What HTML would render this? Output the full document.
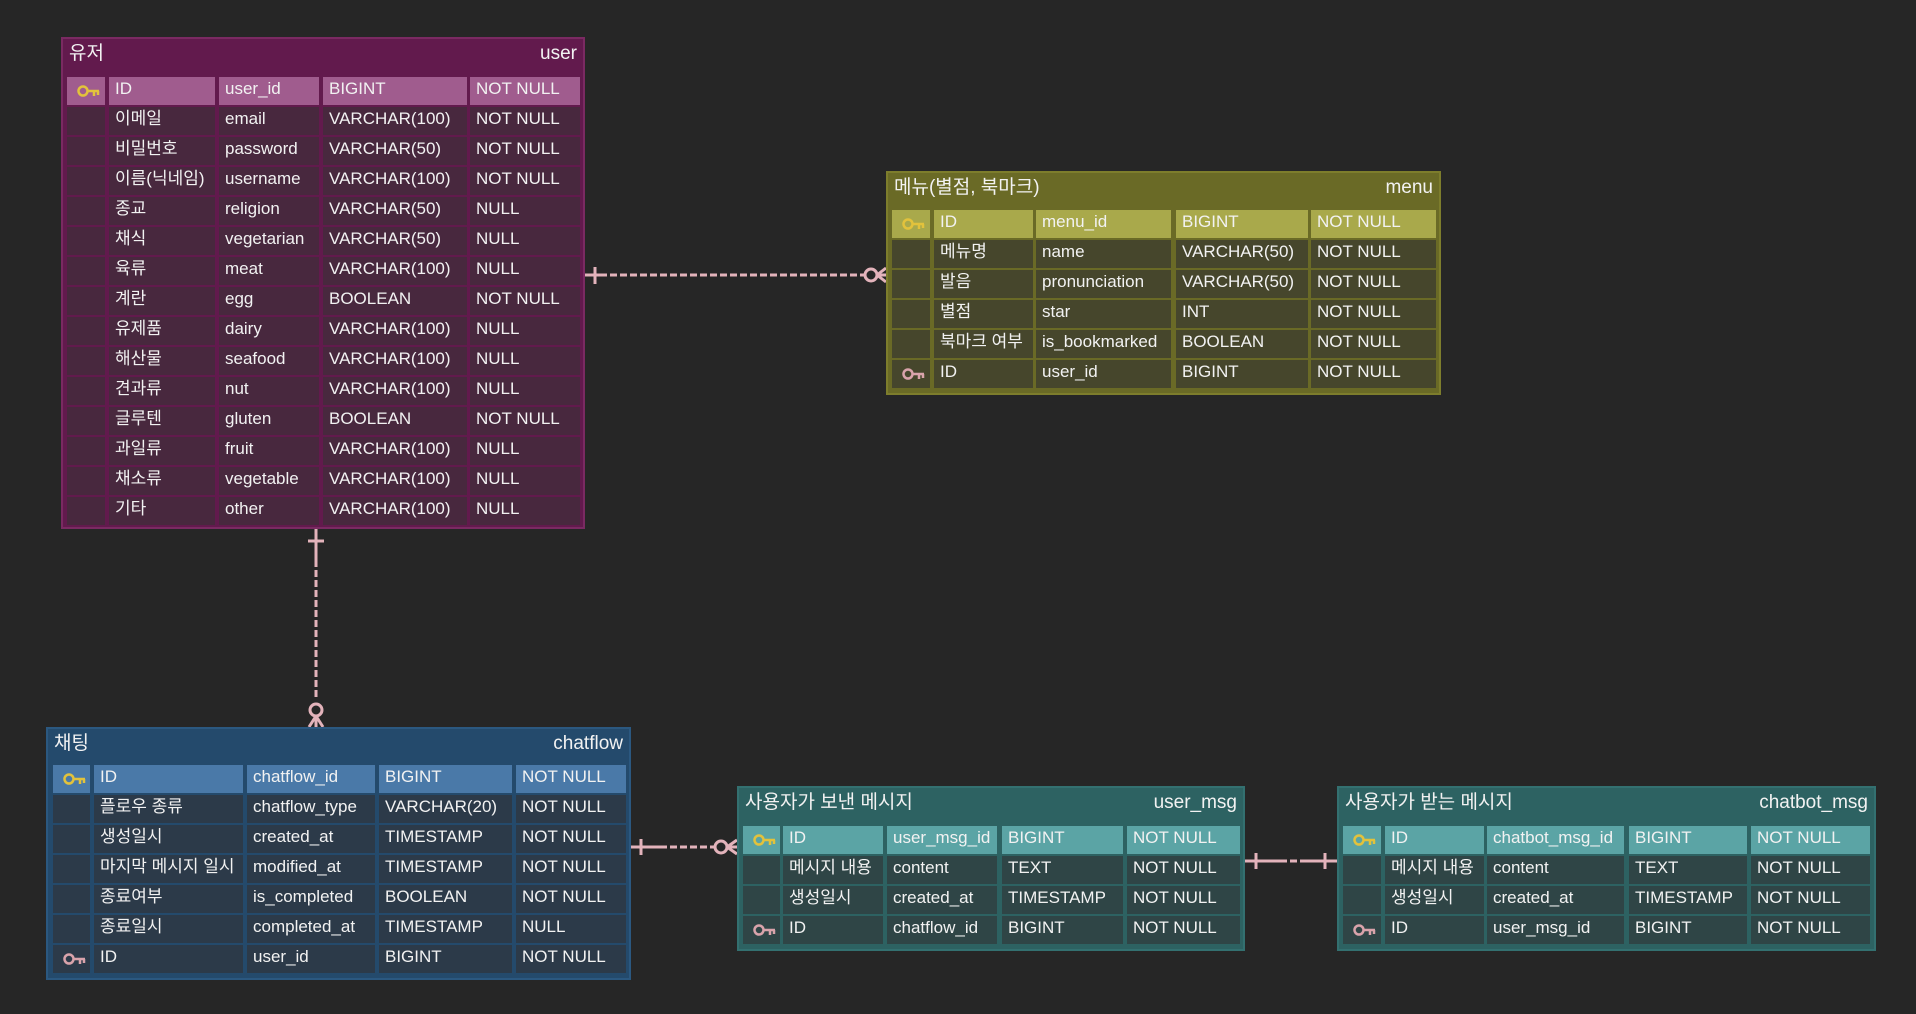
<!DOCTYPE html>
<html><head><meta charset="utf-8"><style>
*{box-sizing:border-box;margin:0;padding:0}
body{width:1916px;height:1014px;background:#262626;position:relative;overflow:hidden;font-family:"Liberation Sans","Noto Sans CJK KR",sans-serif;color:#f2f2f2}
.t{position:absolute;border:2px solid}
.hd{position:absolute;left:6px;right:6px;top:3px;font-size:19px;line-height:24px;display:flex;justify-content:space-between;align-items:baseline}
.r{position:absolute;height:28px}
.c{position:absolute;top:0;height:28px;font-size:17px;line-height:24px;padding-left:6px;white-space:nowrap;overflow:hidden}
.k{display:flex;align-items:center;justify-content:center}
svg.ln{position:absolute;left:0;top:0}
</style></head><body>

<svg class="ln" width="1916" height="1014">
<g stroke="#e3b3bb" stroke-width="3" fill="none">
<line x1="585" y1="275" x2="600" y2="275"/><line x1="600" y1="275" x2="860" y2="275" stroke-dasharray="7,3"/><line x1="860" y1="275" x2="865" y2="275"/>
<line x1="595" y1="267" x2="595" y2="284"/>
<circle cx="871" cy="275" r="6"/>
<line x1="877" y1="275" x2="886" y2="275"/><line x1="877" y1="275" x2="886" y2="268"/><line x1="877" y1="275" x2="886" y2="282"/>
<line x1="316" y1="529" x2="316" y2="560"/><line x1="316" y1="560" x2="316" y2="700" stroke-dasharray="7,3"/>
<line x1="308" y1="541" x2="324" y2="541"/>
<circle cx="316" cy="710" r="6"/>
<line x1="316" y1="716" x2="316" y2="727"/><line x1="316" y1="716" x2="309" y2="727"/><line x1="316" y1="716" x2="323" y2="727"/>
<line x1="631" y1="847" x2="660" y2="847"/><line x1="660" y1="847" x2="715" y2="847" stroke-dasharray="7,3"/>
<line x1="641" y1="839" x2="641" y2="855"/>
<circle cx="721" cy="847" r="6"/>
<line x1="727" y1="847" x2="737" y2="847"/><line x1="727" y1="847" x2="737" y2="840"/><line x1="727" y1="847" x2="737" y2="854"/>
<line x1="1245" y1="861" x2="1280" y2="861"/><line x1="1280" y1="861" x2="1302" y2="861" stroke-dasharray="7,3"/><line x1="1302" y1="861" x2="1337" y2="861"/>
<line x1="1256" y1="853" x2="1256" y2="869"/><line x1="1325" y1="853" x2="1325" y2="869"/>
</g>
</svg>

<div class="t" style="left:61px;top:37px;width:524px;height:492px;background:#621a4d;border-color:#7a2a62">
<div class="hd"><span>유저</span><span>user</span></div>
</div>

<div class="r" style="top:77px;left:0">
<div class="c k" style="left:67px;width:38px;background:#a05c8e"><svg width="24" height="14"><circle cx="6" cy="7" r="4.5" stroke="#e2c23c" stroke-width="2.5" fill="none"/><path d="M10 7H22M17 7V12M21 7V11" stroke="#e2c23c" stroke-width="2.5" fill="none"/></svg></div>
<div class="c" style="left:109px;width:106px;background:#a05c8e">ID</div><div class="c" style="left:219px;width:100px;background:#a05c8e">user_id</div><div class="c" style="left:323px;width:144px;background:#a05c8e">BIGINT</div><div class="c" style="left:470px;width:110px;background:#a05c8e">NOT NULL</div></div>

<div class="r" style="top:107px"><div class="c" style="left:67px;width:38px;background:#48283e"></div><div class="c" style="left:109px;width:106px;background:#48283e">이메일</div><div class="c" style="left:219px;width:100px;background:#48283e">email</div><div class="c" style="left:323px;width:144px;background:#48283e">VARCHAR(100)</div><div class="c" style="left:470px;width:110px;background:#48283e">NOT NULL</div></div>
<div class="r" style="top:137px"><div class="c" style="left:67px;width:38px;background:#48283e"></div><div class="c" style="left:109px;width:106px;background:#48283e">비밀번호</div><div class="c" style="left:219px;width:100px;background:#48283e">password</div><div class="c" style="left:323px;width:144px;background:#48283e">VARCHAR(50)</div><div class="c" style="left:470px;width:110px;background:#48283e">NOT NULL</div></div>
<div class="r" style="top:167px"><div class="c" style="left:67px;width:38px;background:#48283e"></div><div class="c" style="left:109px;width:106px;background:#48283e">이름(닉네임)</div><div class="c" style="left:219px;width:100px;background:#48283e">username</div><div class="c" style="left:323px;width:144px;background:#48283e">VARCHAR(100)</div><div class="c" style="left:470px;width:110px;background:#48283e">NOT NULL</div></div>
<div class="r" style="top:197px"><div class="c" style="left:67px;width:38px;background:#48283e"></div><div class="c" style="left:109px;width:106px;background:#48283e">종교</div><div class="c" style="left:219px;width:100px;background:#48283e">religion</div><div class="c" style="left:323px;width:144px;background:#48283e">VARCHAR(50)</div><div class="c" style="left:470px;width:110px;background:#48283e">NULL</div></div>
<div class="r" style="top:227px"><div class="c" style="left:67px;width:38px;background:#48283e"></div><div class="c" style="left:109px;width:106px;background:#48283e">채식</div><div class="c" style="left:219px;width:100px;background:#48283e">vegetarian</div><div class="c" style="left:323px;width:144px;background:#48283e">VARCHAR(50)</div><div class="c" style="left:470px;width:110px;background:#48283e">NULL</div></div>
<div class="r" style="top:257px"><div class="c" style="left:67px;width:38px;background:#48283e"></div><div class="c" style="left:109px;width:106px;background:#48283e">육류</div><div class="c" style="left:219px;width:100px;background:#48283e">meat</div><div class="c" style="left:323px;width:144px;background:#48283e">VARCHAR(100)</div><div class="c" style="left:470px;width:110px;background:#48283e">NULL</div></div>
<div class="r" style="top:287px"><div class="c" style="left:67px;width:38px;background:#48283e"></div><div class="c" style="left:109px;width:106px;background:#48283e">계란</div><div class="c" style="left:219px;width:100px;background:#48283e">egg</div><div class="c" style="left:323px;width:144px;background:#48283e">BOOLEAN</div><div class="c" style="left:470px;width:110px;background:#48283e">NOT NULL</div></div>
<div class="r" style="top:317px"><div class="c" style="left:67px;width:38px;background:#48283e"></div><div class="c" style="left:109px;width:106px;background:#48283e">유제품</div><div class="c" style="left:219px;width:100px;background:#48283e">dairy</div><div class="c" style="left:323px;width:144px;background:#48283e">VARCHAR(100)</div><div class="c" style="left:470px;width:110px;background:#48283e">NULL</div></div>
<div class="r" style="top:347px"><div class="c" style="left:67px;width:38px;background:#48283e"></div><div class="c" style="left:109px;width:106px;background:#48283e">해산물</div><div class="c" style="left:219px;width:100px;background:#48283e">seafood</div><div class="c" style="left:323px;width:144px;background:#48283e">VARCHAR(100)</div><div class="c" style="left:470px;width:110px;background:#48283e">NULL</div></div>
<div class="r" style="top:377px"><div class="c" style="left:67px;width:38px;background:#48283e"></div><div class="c" style="left:109px;width:106px;background:#48283e">견과류</div><div class="c" style="left:219px;width:100px;background:#48283e">nut</div><div class="c" style="left:323px;width:144px;background:#48283e">VARCHAR(100)</div><div class="c" style="left:470px;width:110px;background:#48283e">NULL</div></div>
<div class="r" style="top:407px"><div class="c" style="left:67px;width:38px;background:#48283e"></div><div class="c" style="left:109px;width:106px;background:#48283e">글루텐</div><div class="c" style="left:219px;width:100px;background:#48283e">gluten</div><div class="c" style="left:323px;width:144px;background:#48283e">BOOLEAN</div><div class="c" style="left:470px;width:110px;background:#48283e">NOT NULL</div></div>
<div class="r" style="top:437px"><div class="c" style="left:67px;width:38px;background:#48283e"></div><div class="c" style="left:109px;width:106px;background:#48283e">과일류</div><div class="c" style="left:219px;width:100px;background:#48283e">fruit</div><div class="c" style="left:323px;width:144px;background:#48283e">VARCHAR(100)</div><div class="c" style="left:470px;width:110px;background:#48283e">NULL</div></div>
<div class="r" style="top:467px"><div class="c" style="left:67px;width:38px;background:#48283e"></div><div class="c" style="left:109px;width:106px;background:#48283e">채소류</div><div class="c" style="left:219px;width:100px;background:#48283e">vegetable</div><div class="c" style="left:323px;width:144px;background:#48283e">VARCHAR(100)</div><div class="c" style="left:470px;width:110px;background:#48283e">NULL</div></div>
<div class="r" style="top:497px"><div class="c" style="left:67px;width:38px;background:#48283e"></div><div class="c" style="left:109px;width:106px;background:#48283e">기타</div><div class="c" style="left:219px;width:100px;background:#48283e">other</div><div class="c" style="left:323px;width:144px;background:#48283e">VARCHAR(100)</div><div class="c" style="left:470px;width:110px;background:#48283e">NULL</div></div>

<div class="t" style="left:886px;top:171px;width:555px;height:224px;background:#6a6a26;border-color:#7d7d2c">
<div class="hd"><span>메뉴(별점, 북마크)</span><span>menu</span></div>
</div>
<div class="r" style="top:210px"><div class="c k" style="left:892px;width:38px;background:#a9a94b"><svg width="24" height="14"><circle cx="6" cy="7" r="4.5" stroke="#e2c23c" stroke-width="2.5" fill="none"/><path d="M10 7H22M17 7V12M21 7V11" stroke="#e2c23c" stroke-width="2.5" fill="none"/></svg></div><div class="c" style="left:934px;width:99px;background:#a9a94b">ID</div><div class="c" style="left:1036px;width:135px;background:#a9a94b">menu_id</div><div class="c" style="left:1176px;width:132px;background:#a9a94b">BIGINT</div><div class="c" style="left:1311px;width:125px;background:#a9a94b">NOT NULL</div></div>
<div class="r" style="top:240px"><div class="c" style="left:892px;width:38px;background:#46462c"></div><div class="c" style="left:934px;width:99px;background:#46462c">메뉴명</div><div class="c" style="left:1036px;width:135px;background:#46462c">name</div><div class="c" style="left:1176px;width:132px;background:#46462c">VARCHAR(50)</div><div class="c" style="left:1311px;width:125px;background:#46462c">NOT NULL</div></div>
<div class="r" style="top:270px"><div class="c" style="left:892px;width:38px;background:#46462c"></div><div class="c" style="left:934px;width:99px;background:#46462c">발음</div><div class="c" style="left:1036px;width:135px;background:#46462c">pronunciation</div><div class="c" style="left:1176px;width:132px;background:#46462c">VARCHAR(50)</div><div class="c" style="left:1311px;width:125px;background:#46462c">NOT NULL</div></div>
<div class="r" style="top:300px"><div class="c" style="left:892px;width:38px;background:#46462c"></div><div class="c" style="left:934px;width:99px;background:#46462c">별점</div><div class="c" style="left:1036px;width:135px;background:#46462c">star</div><div class="c" style="left:1176px;width:132px;background:#46462c">INT</div><div class="c" style="left:1311px;width:125px;background:#46462c">NOT NULL</div></div>
<div class="r" style="top:330px"><div class="c" style="left:892px;width:38px;background:#46462c"></div><div class="c" style="left:934px;width:99px;background:#46462c">북마크 여부</div><div class="c" style="left:1036px;width:135px;background:#46462c">is_bookmarked</div><div class="c" style="left:1176px;width:132px;background:#46462c">BOOLEAN</div><div class="c" style="left:1311px;width:125px;background:#46462c">NOT NULL</div></div>
<div class="r" style="top:360px"><div class="c k" style="left:892px;width:38px;background:#46462c"><svg width="24" height="14"><circle cx="6" cy="7" r="4.5" stroke="#d9a3ab" stroke-width="2.5" fill="none"/><path d="M10 7H22M17 7V12M21 7V11" stroke="#d9a3ab" stroke-width="2.5" fill="none"/></svg></div><div class="c" style="left:934px;width:99px;background:#46462c">ID</div><div class="c" style="left:1036px;width:135px;background:#46462c">user_id</div><div class="c" style="left:1176px;width:132px;background:#46462c">BIGINT</div><div class="c" style="left:1311px;width:125px;background:#46462c">NOT NULL</div></div>

<div class="t" style="left:46px;top:727px;width:585px;height:253px;background:#244a6c;border-color:#2b5880">
<div class="hd"><span>채팅</span><span>chatflow</span></div>
</div>
<div class="r" style="top:765px"><div class="c k" style="left:53px;width:37px;background:#4a79a8"><svg width="24" height="14"><circle cx="6" cy="7" r="4.5" stroke="#e2c23c" stroke-width="2.5" fill="none"/><path d="M10 7H22M17 7V12M21 7V11" stroke="#e2c23c" stroke-width="2.5" fill="none"/></svg></div><div class="c" style="left:94px;width:149px;background:#4a79a8">ID</div><div class="c" style="left:247px;width:128px;background:#4a79a8">chatflow_id</div><div class="c" style="left:379px;width:133px;background:#4a79a8">BIGINT</div><div class="c" style="left:516px;width:110px;background:#4a79a8">NOT NULL</div></div>
<div class="r" style="top:795px"><div class="c" style="left:53px;width:37px;background:#2c3a49"></div><div class="c" style="left:94px;width:149px;background:#2c3a49">플로우 종류</div><div class="c" style="left:247px;width:128px;background:#2c3a49">chatflow_type</div><div class="c" style="left:379px;width:133px;background:#2c3a49">VARCHAR(20)</div><div class="c" style="left:516px;width:110px;background:#2c3a49">NOT NULL</div></div>
<div class="r" style="top:825px"><div class="c" style="left:53px;width:37px;background:#2c3a49"></div><div class="c" style="left:94px;width:149px;background:#2c3a49">생성일시</div><div class="c" style="left:247px;width:128px;background:#2c3a49">created_at</div><div class="c" style="left:379px;width:133px;background:#2c3a49">TIMESTAMP</div><div class="c" style="left:516px;width:110px;background:#2c3a49">NOT NULL</div></div>
<div class="r" style="top:855px"><div class="c" style="left:53px;width:37px;background:#2c3a49"></div><div class="c" style="left:94px;width:149px;background:#2c3a49">마지막 메시지 일시</div><div class="c" style="left:247px;width:128px;background:#2c3a49">modified_at</div><div class="c" style="left:379px;width:133px;background:#2c3a49">TIMESTAMP</div><div class="c" style="left:516px;width:110px;background:#2c3a49">NOT NULL</div></div>
<div class="r" style="top:885px"><div class="c" style="left:53px;width:37px;background:#2c3a49"></div><div class="c" style="left:94px;width:149px;background:#2c3a49">종료여부</div><div class="c" style="left:247px;width:128px;background:#2c3a49">is_completed</div><div class="c" style="left:379px;width:133px;background:#2c3a49">BOOLEAN</div><div class="c" style="left:516px;width:110px;background:#2c3a49">NOT NULL</div></div>
<div class="r" style="top:915px"><div class="c" style="left:53px;width:37px;background:#2c3a49"></div><div class="c" style="left:94px;width:149px;background:#2c3a49">종료일시</div><div class="c" style="left:247px;width:128px;background:#2c3a49">completed_at</div><div class="c" style="left:379px;width:133px;background:#2c3a49">TIMESTAMP</div><div class="c" style="left:516px;width:110px;background:#2c3a49">NULL</div></div>
<div class="r" style="top:945px"><div class="c k" style="left:53px;width:37px;background:#2c3a49"><svg width="24" height="14"><circle cx="6" cy="7" r="4.5" stroke="#d9a3ab" stroke-width="2.5" fill="none"/><path d="M10 7H22M17 7V12M21 7V11" stroke="#d9a3ab" stroke-width="2.5" fill="none"/></svg></div><div class="c" style="left:94px;width:149px;background:#2c3a49">ID</div><div class="c" style="left:247px;width:128px;background:#2c3a49">user_id</div><div class="c" style="left:379px;width:133px;background:#2c3a49">BIGINT</div><div class="c" style="left:516px;width:110px;background:#2c3a49">NOT NULL</div></div>

<div class="t" style="left:737px;top:786px;width:508px;height:165px;background:#2d6262;border-color:#337070">
<div class="hd"><span>사용자가 보낸 메시지</span><span>user_msg</span></div>
</div>
<div class="r" style="top:826px"><div class="c k" style="left:743px;width:37px;background:#5ba4a5"><svg width="24" height="14"><circle cx="6" cy="7" r="4.5" stroke="#e2c23c" stroke-width="2.5" fill="none"/><path d="M10 7H22M17 7V12M21 7V11" stroke="#e2c23c" stroke-width="2.5" fill="none"/></svg></div><div class="c" style="left:783px;width:100px;background:#5ba4a5">ID</div><div class="c" style="left:887px;width:110px;background:#5ba4a5">user_msg_id</div><div class="c" style="left:1002px;width:121px;background:#5ba4a5">BIGINT</div><div class="c" style="left:1127px;width:113px;background:#5ba4a5">NOT NULL</div></div>
<div class="r" style="top:856px"><div class="c" style="left:743px;width:37px;background:#2f4546"></div><div class="c" style="left:783px;width:100px;background:#2f4546">메시지 내용</div><div class="c" style="left:887px;width:110px;background:#2f4546">content</div><div class="c" style="left:1002px;width:121px;background:#2f4546">TEXT</div><div class="c" style="left:1127px;width:113px;background:#2f4546">NOT NULL</div></div>
<div class="r" style="top:886px"><div class="c" style="left:743px;width:37px;background:#2f4546"></div><div class="c" style="left:783px;width:100px;background:#2f4546">생성일시</div><div class="c" style="left:887px;width:110px;background:#2f4546">created_at</div><div class="c" style="left:1002px;width:121px;background:#2f4546">TIMESTAMP</div><div class="c" style="left:1127px;width:113px;background:#2f4546">NOT NULL</div></div>
<div class="r" style="top:916px"><div class="c k" style="left:743px;width:37px;background:#2f4546"><svg width="24" height="14"><circle cx="6" cy="7" r="4.5" stroke="#d9a3ab" stroke-width="2.5" fill="none"/><path d="M10 7H22M17 7V12M21 7V11" stroke="#d9a3ab" stroke-width="2.5" fill="none"/></svg></div><div class="c" style="left:783px;width:100px;background:#2f4546">ID</div><div class="c" style="left:887px;width:110px;background:#2f4546">chatflow_id</div><div class="c" style="left:1002px;width:121px;background:#2f4546">BIGINT</div><div class="c" style="left:1127px;width:113px;background:#2f4546">NOT NULL</div></div>

<div class="t" style="left:1337px;top:786px;width:539px;height:165px;background:#2d6262;border-color:#337070">
<div class="hd"><span>사용자가 받는 메시지</span><span>chatbot_msg</span></div>
</div>
<div class="r" style="top:826px"><div class="c k" style="left:1343px;width:38px;background:#5ba4a5"><svg width="24" height="14"><circle cx="6" cy="7" r="4.5" stroke="#e2c23c" stroke-width="2.5" fill="none"/><path d="M10 7H22M17 7V12M21 7V11" stroke="#e2c23c" stroke-width="2.5" fill="none"/></svg></div><div class="c" style="left:1385px;width:99px;background:#5ba4a5">ID</div><div class="c" style="left:1487px;width:137px;background:#5ba4a5">chatbot_msg_id</div><div class="c" style="left:1629px;width:118px;background:#5ba4a5">BIGINT</div><div class="c" style="left:1751px;width:119px;background:#5ba4a5">NOT NULL</div></div>
<div class="r" style="top:856px"><div class="c" style="left:1343px;width:38px;background:#2f4546"></div><div class="c" style="left:1385px;width:99px;background:#2f4546">메시지 내용</div><div class="c" style="left:1487px;width:137px;background:#2f4546">content</div><div class="c" style="left:1629px;width:118px;background:#2f4546">TEXT</div><div class="c" style="left:1751px;width:119px;background:#2f4546">NOT NULL</div></div>
<div class="r" style="top:886px"><div class="c" style="left:1343px;width:38px;background:#2f4546"></div><div class="c" style="left:1385px;width:99px;background:#2f4546">생성일시</div><div class="c" style="left:1487px;width:137px;background:#2f4546">created_at</div><div class="c" style="left:1629px;width:118px;background:#2f4546">TIMESTAMP</div><div class="c" style="left:1751px;width:119px;background:#2f4546">NOT NULL</div></div>
<div class="r" style="top:916px"><div class="c k" style="left:1343px;width:38px;background:#2f4546"><svg width="24" height="14"><circle cx="6" cy="7" r="4.5" stroke="#d9a3ab" stroke-width="2.5" fill="none"/><path d="M10 7H22M17 7V12M21 7V11" stroke="#d9a3ab" stroke-width="2.5" fill="none"/></svg></div><div class="c" style="left:1385px;width:99px;background:#2f4546">ID</div><div class="c" style="left:1487px;width:137px;background:#2f4546">user_msg_id</div><div class="c" style="left:1629px;width:118px;background:#2f4546">BIGINT</div><div class="c" style="left:1751px;width:119px;background:#2f4546">NOT NULL</div></div>

</body></html>
